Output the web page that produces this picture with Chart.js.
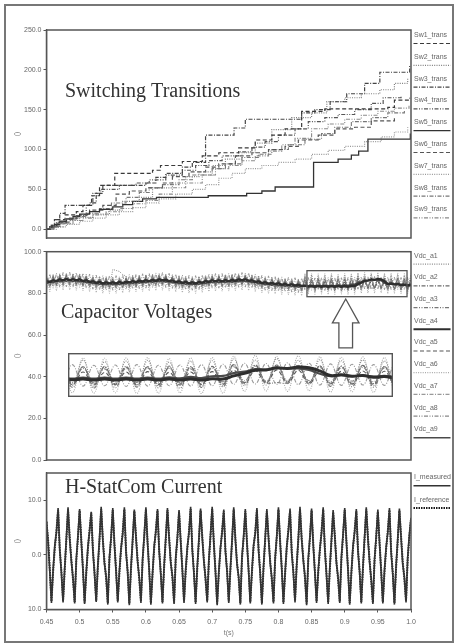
<!DOCTYPE html>
<html>
<head>
<meta charset="utf-8">
<script src="https://cdn.jsdelivr.net/npm/chart.js@4.4.0/dist/chart.umd.min.js"></script>
<style>
  html, body { margin: 0; padding: 0; background: #fff; }
  #page { position: relative; width: 457px; height: 643px; overflow: hidden; }
  #frame { position: absolute; left: 4px; top: 4px; width: 446px; height: 635px; border: 2px solid #777; }
  canvas { position: absolute; left: 0; }
</style>
</head>
<body>
<div id="page">
  <div id="frame"></div>
  <canvas id="swChart" width="457" height="245" style="top:0px"></canvas>
  <canvas id="vdcChart" width="457" height="227" style="top:240px"></canvas>
  <canvas id="curChart" width="457" height="178" style="top:465px"></canvas>
  <canvas id="insetChart" width="10" height="10" style="top:0px"></canvas>
</div>
<script>
'use strict';

// ── Data ──────────────────────────────────────────────────────────────────────

const X_TICKS = [0.45, 0.5, 0.55, 0.6, 0.65, 0.7, 0.75, 0.8, 0.85, 0.9, 0.95, 1.0];
const SW_TICKS = [0, 50, 100, 150, 200, 250];
const VDC_TICKS = [0, 20, 40, 60, 80, 100];
const CUR_TICKS = [-10, 0, 10];

const SW_NAMES = ['Sw1_trans', 'Sw2_trans', 'Sw3_trans', 'Sw4_trans', 'Sw5_trans',
  'Sw6_trans', 'Sw7_trans', 'Sw8_trans', 'Sw9_trans'];
const VDC_NAMES = ['Vdc_a1', 'Vdc_a2', 'Vdc_a3', 'Vdc_a4', 'Vdc_a5',
  'Vdc_a6', 'Vdc_a7', 'Vdc_a8', 'Vdc_a9'];
const CUR_NAMES = ['I_measured', 'I_reference'];

// switching transitions: [t, count] – the count jumps to this value at t
const sw1 = [[0.45,0],[0.458,5],[0.466,12],[0.478,18],[0.495,22],[0.505,30],[0.518,42],[0.53,55],[0.553,70],[0.61,74],[0.622,80],[0.655,85],[0.685,92],[0.71,96],[0.74,102],[0.765,112],[0.79,118],[0.81,126],[0.835,148],[0.87,151],[0.965,153],[0.975,162],[0.998,165]];
const sw2 = [[0.45,0],[0.46,3],[0.47,7],[0.485,11],[0.5,15],[0.52,19],[0.545,24],[0.565,35],[0.59,40],[0.61,52],[0.64,58],[0.66,66],[0.68,72],[0.7,80],[0.72,88],[0.745,96],[0.765,108],[0.79,125],[0.82,140],[0.85,146],[0.873,160],[0.9,165],[0.925,170],[0.953,175],[0.975,183],[0.995,190]];
const sw3 = [[0.45,0],[0.455,5],[0.462,12],[0.47,20],[0.478,30],[0.515,33],[0.525,45],[0.535,55],[0.6,58],[0.615,65],[0.63,70],[0.655,78],[0.67,84],[0.69,118],[0.733,127],[0.75,138],[0.835,146],[0.855,150],[0.878,160],[0.903,170],[0.93,183],[0.953,197],[0.998,205]];
const sw4 = [[0.45,0],[0.457,4],[0.465,9],[0.48,13],[0.495,17],[0.51,30],[0.52,45],[0.532,50],[0.56,55],[0.585,58],[0.605,62],[0.63,68],[0.655,74],[0.675,80],[0.695,86],[0.715,92],[0.74,97],[0.76,103],[0.78,110],[0.8,118],[0.825,126],[0.845,135],[0.87,140],[0.89,144],[0.915,150],[0.94,158],[0.958,165],[0.985,168]];
const sw5 = [[0.45,0],[0.455,3],[0.462,6],[0.47,10],[0.48,13],[0.49,16],[0.5,19],[0.515,22],[0.53,25],[0.55,28],[0.565,31],[0.58,35],[0.595,38],[0.616,40],[0.694,42],[0.752,45],[0.775,48],[0.795,53],[0.853,84],[0.89,88],[0.91,93],[0.921,98],[0.935,113],[0.999,120]];
const sw6 = [[0.45,0],[0.46,4],[0.472,9],[0.485,14],[0.5,18],[0.515,24],[0.535,30],[0.555,44],[0.575,48],[0.6,52],[0.625,58],[0.64,66],[0.665,72],[0.69,78],[0.71,82],[0.735,92],[0.76,96],[0.785,100],[0.81,104],[0.83,112],[0.86,118],[0.885,126],[0.915,128],[0.94,136],[0.975,141]];
const sw7 = [[0.45,0],[0.465,3],[0.48,6],[0.5,10],[0.52,14],[0.54,18],[0.56,22],[0.58,27],[0.6,33],[0.62,38],[0.645,44],[0.67,50],[0.69,56],[0.71,64],[0.73,70],[0.75,76],[0.775,80],[0.8,84],[0.825,88],[0.85,94],[0.875,99],[0.9,104],[0.93,110],[0.955,116],[0.975,122],[0.995,128]];
const sw8 = [[0.45,0],[0.458,3],[0.468,8],[0.48,12],[0.495,16],[0.51,20],[0.53,26],[0.548,33],[0.57,40],[0.59,46],[0.605,52],[0.625,56],[0.65,62],[0.67,68],[0.7,76],[0.72,82],[0.745,90],[0.77,94],[0.79,100],[0.815,106],[0.84,113],[0.865,120],[0.885,128],[0.91,135],[0.94,140],[0.965,146],[0.99,150]];
const sw9 = [[0.45,0],[0.462,3],[0.475,7],[0.49,11],[0.505,14],[0.52,18],[0.54,22],[0.56,26],[0.58,32],[0.6,36],[0.62,44],[0.64,52],[0.66,58],[0.685,68],[0.705,76],[0.725,80],[0.745,86],[0.765,92],[0.785,98],[0.805,106],[0.825,114],[0.85,126],[0.875,132],[0.9,138],[0.925,143],[0.95,148],[0.975,152],[0.997,155]];

// capacitor voltages, sampled every 5 ms
const tVdc = [
  0.45,0.455,0.46,0.465,0.47,0.475,0.48,0.485,0.49,0.495,
  0.5,0.505,0.51,0.515,0.52,0.525,0.53,0.535,0.54,0.545,
  0.55,0.555,0.56,0.565,0.57,0.575,0.58,0.585,0.59,0.595,
  0.6,0.605,0.61,0.615,0.62,0.625,0.63,0.635,0.64,0.645,
  0.65,0.655,0.66,0.665,0.67,0.675,0.68,0.685,0.69,0.695,
  0.7,0.705,0.71,0.715,0.72,0.725,0.73,0.735,0.74,0.745,
  0.75,0.755,0.76,0.765,0.77,0.775,0.78,0.785,0.79,0.795,
  0.8,0.805,0.81,0.815,0.82,0.825,0.83,0.835,0.84,0.845,
  0.85,0.855,0.86,0.865,0.87,0.875,0.88,0.885,0.89,0.895,
  0.9,0.905,0.91,0.915,0.92,0.925,0.93,0.935,0.94,0.945,
  0.95,0.955,0.96,0.965,0.97,0.975,0.98,0.985,0.99,0.995,1.0];
const vdcA1 = [
  88.5,82.8,89.0,83.2,89.4,83.5,89.6,83.6,89.5,83.5,
  89.4,83.2,89.0,82.8,88.5,82.3,88.2,82.0,88.0,82.0,
  91.5,91.0,90.5,89.0,88.3,82.5,88.6,82.7,88.8,82.9,
  89.0,83.1,89.2,83.3,89.4,83.5,89.3,83.1,88.9,82.7,
  88.5,82.3,88.2,82.1,88.0,82.0,88.2,82.4,88.6,82.8,
  89.0,83.0,89.0,83.0,89.1,83.1,89.2,83.3,89.4,83.5,
  89.5,83.3,89.0,82.8,88.5,82.2,88.0,81.9,87.8,81.7,
  87.5,81.4,87.3,81.2,87.1,81.0,86.9,80.8,88.7,81.6,
  88.9,81.2,88.4,81.7,88.6,81.3,88.8,81.5,88.3,81.8,
  88.6,81.4,88.7,81.6,89.2,82.1,88.9,81.8,89.3,82.2,
  88.8,81.9,89.0,81.6,88.7,81.9,88.9,81.7,88.6,81.8,88.8];
const vdcA2 = [
  87.5,83.8,88.0,84.2,88.4,84.5,88.6,84.6,88.5,84.5,
  88.4,84.2,88.0,83.8,87.5,83.3,87.2,83.0,87.0,83.0,
  87.0,83.0,87.1,83.2,87.3,83.5,87.6,83.7,87.8,83.9,
  88.0,84.1,88.2,84.3,88.4,84.5,88.3,84.1,87.9,83.7,
  87.5,83.3,87.2,83.1,87.0,83.0,87.2,83.4,87.6,83.8,
  88.0,84.0,88.0,84.0,88.1,84.1,88.2,84.3,88.4,84.5,
  88.5,84.3,88.0,83.8,87.5,83.2,87.0,82.9,86.8,82.7,
  86.5,82.4,86.3,82.2,86.1,82.0,85.9,81.8,87.2,82.1,
  87.0,82.0,86.9,82.1,87.1,81.9,87.0,82.0,86.8,82.1,
  87.0,82.0,87.1,82.2,87.6,82.5,87.4,82.4,87.5,82.6,
  87.3,82.5,87.2,82.3,87.1,82.3,87.3,82.2,87.0,82.2,87.1];
const vdcA3 = [
  88.0,83.3,88.5,83.7,88.9,84.0,89.1,84.1,89.0,84.0,
  88.9,83.7,88.5,83.3,88.0,82.8,87.7,82.5,87.5,82.5,
  87.5,82.5,87.6,82.7,87.8,83.0,88.1,83.2,88.3,83.4,
  88.5,83.6,88.7,83.8,88.9,84.0,88.8,83.6,88.4,83.2,
  88.0,82.8,87.7,82.6,87.5,82.5,87.7,82.9,88.1,83.3,
  88.5,83.5,88.5,83.5,88.6,83.6,88.7,83.8,88.9,84.0,
  89.0,83.8,88.5,83.3,88.0,82.7,87.5,82.4,87.3,82.2,
  87.0,81.9,86.8,81.7,86.6,81.5,86.4,81.3,87.2,81.1,
  87.0,80.9,87.1,81.0,86.9,81.2,87.0,81.0,87.2,80.9,
  87.0,81.1,87.1,81.3,87.6,81.6,87.5,82.6,82.5,82.6,
  87.4,82.4,87.3,81.4,87.2,81.3,87.4,81.2,87.1,81.3,87.0];
const vdcA4 = [
  85.8,85.5,86.3,85.9,86.7,86.2,86.9,86.3,86.8,86.2,
  86.7,85.9,86.3,85.5,85.8,85.0,85.5,84.7,85.3,84.7,
  85.3,84.7,85.4,84.9,85.6,85.2,85.9,85.4,86.1,85.6,
  86.3,85.8,86.5,86.0,86.7,86.2,86.6,85.8,86.2,85.4,
  85.8,85.0,85.5,84.8,85.3,84.7,85.5,85.1,85.9,85.5,
  86.3,85.7,86.3,85.7,86.4,85.8,86.5,86.0,86.7,86.2,
  86.8,86.0,86.3,85.5,85.8,84.9,85.3,84.6,85.1,84.4,
  84.8,84.1,84.6,83.9,84.4,83.7,84.2,83.5,83.7,83.3,
  83.5,83.2,83.5,83.2,83.5,83.2,83.5,83.2,83.5,83.2,
  83.5,83.2,83.6,83.5,84.4,85.1,86.0,86.1,86.7,86.5,
  86.9,86.7,85.8,84.5,84.7,84.3,84.5,84.0,84.2,83.8,84.0];
const vdcA5 = [
  87.0,84.3,87.5,84.7,87.9,85.0,88.1,85.1,88.0,85.0,
  87.9,84.7,87.5,84.3,87.0,83.8,86.7,83.5,86.5,83.5,
  86.5,83.5,86.6,83.7,86.8,84.0,87.1,84.2,87.3,84.4,
  87.5,84.6,87.7,84.8,87.9,85.0,87.8,84.6,87.4,84.2,
  87.0,83.8,86.7,83.6,86.5,83.5,86.7,83.9,87.1,84.3,
  87.5,84.5,87.5,84.5,87.6,84.6,87.7,84.8,87.9,85.0,
  88.0,84.8,87.5,84.3,87.0,83.7,86.5,83.4,86.3,83.2,
  86.0,82.9,85.8,82.7,85.6,82.5,85.4,82.3,85.6,81.9,
  85.5,81.8,85.4,81.9,85.5,81.8,85.6,81.9,85.4,81.8,
  85.5,81.9,85.6,82.0,86.0,82.3,85.9,82.4,86.1,82.3,
  86.0,82.2,85.8,82.1,85.7,82.1,85.8,82.0,85.7,82.1,85.6];
const vdcA6 = [
  88.5,80.8,89.0,81.2,89.4,81.5,89.6,81.6,89.5,81.5,
  89.4,81.2,89.0,80.8,88.5,80.3,88.2,80.0,88.0,80.0,
  88.0,80.0,88.1,80.2,88.3,80.5,88.6,80.7,88.8,80.9,
  89.0,81.1,89.2,81.3,89.4,81.5,89.3,81.1,88.9,80.7,
  88.5,80.3,88.2,80.1,88.0,80.0,88.2,80.4,88.6,80.8,
  89.0,81.0,89.0,81.0,89.1,81.1,89.2,81.3,89.4,81.5,
  89.5,81.3,89.0,80.8,88.5,80.2,88.0,79.9,87.8,79.7,
  87.5,79.4,87.3,79.2,87.1,79.0,86.9,78.8,89.7,79.6,
  89.5,79.5,89.4,79.6,89.5,79.4,89.6,79.5,89.3,79.6,
  89.5,79.4,89.6,79.5,90.0,80.0,90.2,80.1,89.9,80.0,
  90.1,80.2,89.8,79.8,89.7,79.9,89.8,79.7,89.6,79.8,89.5];
const vdcA7 = [
  82.0,89.3,82.5,89.7,82.9,90.0,83.1,90.1,83.0,90.0,
  82.9,89.7,82.5,89.3,82.0,88.8,81.7,88.5,81.5,88.5,
  81.5,88.5,81.6,88.7,81.8,89.0,82.1,89.2,82.3,89.4,
  82.5,89.6,82.7,89.8,82.9,90.0,82.8,89.6,82.4,89.2,
  82.0,88.8,81.7,88.6,81.5,88.5,81.7,88.9,82.1,89.3,
  82.5,89.5,82.5,89.5,82.6,89.6,82.7,89.8,82.9,90.0,
  83.0,89.8,82.5,89.3,82.0,88.7,81.5,88.4,81.3,88.2,
  81.0,87.9,80.8,87.7,80.6,87.5,80.4,87.3,81.6,87.6,
  81.5,87.4,81.6,87.5,81.4,87.6,81.5,87.4,81.6,87.5,
  81.5,87.6,81.6,87.7,82.0,88.0,82.1,87.9,82.0,88.1,
  81.9,88.0,81.8,87.8,81.7,87.7,81.8,87.6,81.7,87.8,81.8];
const vdcA8 = [
  87.2,83.1,87.7,83.5,88.1,83.8,88.3,83.9,88.2,83.8,
  88.1,83.5,87.7,83.1,87.2,82.6,86.9,82.3,86.7,82.3,
  86.7,82.3,86.8,82.5,87.0,82.8,87.3,83.0,87.5,83.2,
  87.7,83.4,87.9,83.6,88.1,83.8,88.0,83.4,87.6,83.0,
  87.2,82.6,86.9,82.4,86.7,82.3,86.9,82.7,87.3,83.1,
  87.7,83.3,87.7,83.3,87.8,83.4,87.9,83.6,88.1,83.8,
  88.2,83.6,87.7,83.1,87.2,82.5,86.7,82.2,86.5,82.0,
  86.2,81.7,86.0,81.5,85.8,81.3,85.6,81.1,86.6,82.5,
  86.5,82.4,86.4,82.6,86.5,82.5,86.6,82.4,86.5,82.5,
  86.4,82.6,86.6,82.7,87.0,83.0,87.1,82.9,87.0,83.1,
  86.9,83.0,86.8,82.8,86.7,82.9,86.8,82.7,86.6,82.8,86.7];
const vdcA9 = [
  84.6,85.7,85.1,86.1,85.5,86.4,85.7,86.5,85.6,86.4,
  85.5,86.1,85.1,85.7,84.6,85.2,84.3,84.9,84.1,84.9,
  84.1,84.9,84.2,85.1,84.4,85.4,84.7,85.6,84.9,85.8,
  85.1,86.0,85.3,86.2,85.5,86.4,85.4,86.0,85.0,85.6,
  84.6,85.2,84.3,85.0,84.1,84.9,84.3,85.3,84.7,85.7,
  85.1,85.9,85.1,85.9,85.2,86.0,85.3,86.2,85.5,86.4,
  85.6,86.2,85.1,85.7,84.6,85.1,84.1,84.8,83.9,84.6,
  83.6,84.3,83.4,84.1,83.2,83.9,83.0,83.7,83.9,83.6,
  83.9,83.6,83.9,83.6,83.9,83.6,83.9,83.6,84.0,83.7,
  84.1,83.8,84.3,84.4,85.2,85.6,86.3,86.2,86.6,86.5,
  86.5,86.1,85.0,84.3,84.6,84.3,84.5,84.2,84.4,84.1,84.2];

// H-StatCom current, sampled every 2.5 ms
const tCur = [
  0.45,0.4525,0.455,0.4575,0.46,0.4625,0.465,0.4675,0.47,0.4725,0.475,0.4775,0.48,0.4825,0.485,0.4875,0.49,0.4925,0.495,0.4975,
  0.5,0.5025,0.505,0.5075,0.51,0.5125,0.515,0.5175,0.52,0.5225,0.525,0.5275,0.53,0.5325,0.535,0.5375,0.54,0.5425,0.545,0.5475,
  0.55,0.5525,0.555,0.5575,0.56,0.5625,0.565,0.5675,0.57,0.5725,0.575,0.5775,0.58,0.5825,0.585,0.5875,0.59,0.5925,0.595,0.5975,
  0.6,0.6025,0.605,0.6075,0.61,0.6125,0.615,0.6175,0.62,0.6225,0.625,0.6275,0.63,0.6325,0.635,0.6375,0.64,0.6425,0.645,0.6475,
  0.65,0.6525,0.655,0.6575,0.66,0.6625,0.665,0.6675,0.67,0.6725,0.675,0.6775,0.68,0.6825,0.685,0.6875,0.69,0.6925,0.695,0.6975,
  0.7,0.7025,0.705,0.7075,0.71,0.7125,0.715,0.7175,0.72,0.7225,0.725,0.7275,0.73,0.7325,0.735,0.7375,0.74,0.7425,0.745,0.7475,
  0.75,0.7525,0.755,0.7575,0.76,0.7625,0.765,0.7675,0.77,0.7725,0.775,0.7775,0.78,0.7825,0.785,0.7875,0.79,0.7925,0.795,0.7975,
  0.8,0.8025,0.805,0.8075,0.81,0.8125,0.815,0.8175,0.82,0.8225,0.825,0.8275,0.83,0.8325,0.835,0.8375,0.84,0.8425,0.845,0.8475,
  0.85,0.8525,0.855,0.8575,0.86,0.8625,0.865,0.8675,0.87,0.8725,0.875,0.8775,0.88,0.8825,0.885,0.8875,0.89,0.8925,0.895,0.8975,
  0.9,0.9025,0.905,0.9075,0.91,0.9125,0.915,0.9175,0.92,0.9225,0.925,0.9275,0.93,0.9325,0.935,0.9375,0.94,0.9425,0.945,0.9475,
  0.95,0.9525,0.955,0.9575,0.96,0.9625,0.965,0.9675,0.97,0.9725,0.975,0.9775,0.98,0.9825,0.985,0.9875,0.99,0.9925,0.995,0.9975,
  1.0];
const iMeasured = [
  6.2,2.2,-3.1,-8.8,-2.6,1.8,4.1,8.6,0.9,-3.4,-8.7,-2.3,3.2,8.7,2.8,-1.2,-4.2,-8.9,-0.6,3.6,
  8.4,2.4,-2.8,-9.0,-3.1,1.6,4.3,7.9,0.7,-3.6,-8.6,-1.8,3.1,8.8,2.6,-1.7,-3.9,-9.1,-0.3,3.4,
  8.6,1.8,-3.2,-8.7,-2.9,1.3,3.8,8.7,0.4,-3.3,-9.2,-2.2,2.9,8.3,3.2,-1.4,-4.1,-8.8,-0.7,3.7,
  8.7,2.1,-3.0,-9.1,-3.3,1.7,4.2,8.4,0.6,-3.7,-8.9,-1.9,3.3,8.6,2.9,-1.6,-3.8,-9.0,-0.4,3.3,
  8.2,2.3,-2.9,-8.8,-2.7,1.5,4.0,8.8,0.8,-3.5,-9.0,-2.1,3.0,8.5,3.1,-1.3,-4.3,-8.7,-0.8,3.8,
  8.8,1.9,-3.3,-9.2,-3.0,1.4,4.1,8.3,0.5,-3.2,-8.8,-2.4,2.8,8.7,2.7,-1.8,-4.0,-9.1,-0.2,3.5,
  8.4,2.0,-3.1,-8.9,-2.8,1.9,3.9,8.6,0.7,-3.6,-9.1,-2.0,3.2,8.4,3.0,-1.5,-4.2,-8.9,-0.5,3.6,
  8.7,2.2,-2.7,-9.0,-3.2,1.6,4.4,8.5,0.3,-3.4,-8.7,-1.7,3.1,8.8,2.8,-1.1,-3.9,-9.2,-0.6,3.4,
  8.5,1.7,-3.4,-8.8,-2.9,1.2,4.0,8.7,0.9,-3.8,-9.0,-2.3,2.9,8.2,3.3,-1.6,-4.1,-8.8,-0.3,3.9,
  8.6,2.4,-3.0,-9.1,-3.1,1.7,4.2,8.4,0.6,-3.3,-8.9,-2.1,3.4,8.7,2.9,-1.4,-4.4,-9.0,-0.7,3.5,
  8.3,2.1,-3.2,-8.9,-2.7,1.5,4.1,8.6,0.4,-3.6,-9.1,-1.9,3.0,8.5,3.1,-1.7,-4.0,-8.7,-0.4,3.7,
  6.8];
const iReference = [
  6.0,2.6,-2.7,-8.5,-3.0,1.2,4.4,8.2,1.1,-3.0,-8.4,-2.6,2.8,8.3,3.2,-0.9,-4.5,-8.6,-1.0,3.2,
  8.1,2.8,-2.5,-8.7,-3.4,1.1,4.6,7.7,1.0,-3.2,-8.4,-2.2,2.7,8.4,3.0,-1.3,-4.3,-8.8,-0.7,3.0,
  8.2,2.2,-2.8,-8.4,-3.3,1.0,4.2,8.3,0.8,-3.0,-8.9,-2.6,2.5,8.0,3.5,-1.0,-4.5,-8.5,-1.1,3.3,
  8.3,2.5,-2.6,-8.8,-3.6,1.3,4.5,8.1,1.0,-3.3,-8.6,-2.3,2.9,8.2,3.3,-1.2,-4.2,-8.7,-0.8,2.9,
  7.9,2.7,-2.5,-8.5,-3.1,1.1,4.3,8.4,1.2,-3.1,-8.7,-2.5,2.6,8.1,3.5,-0.9,-4.6,-8.4,-1.2,3.4,
  8.4,2.3,-2.9,-8.9,-3.4,1.0,4.5,8.0,0.9,-2.8,-8.5,-2.8,2.4,8.3,3.1,-1.4,-4.4,-8.8,-0.6,3.1,
  8.0,2.4,-2.7,-8.6,-3.2,1.5,4.2,8.2,1.1,-3.2,-8.8,-2.4,2.8,8.0,3.4,-1.1,-4.6,-8.6,-0.9,3.2,
  8.3,2.6,-2.3,-8.7,-3.6,1.2,4.7,8.1,0.7,-3.0,-8.4,-2.1,2.7,8.4,3.2,-0.7,-4.3,-8.9,-1.0,3.0,
  8.1,2.1,-3.0,-8.5,-3.3,0.8,4.3,8.3,1.3,-3.4,-8.7,-2.7,2.5,7.8,3.7,-1.2,-4.5,-8.5,-0.7,3.5,
  8.2,2.8,-2.6,-8.8,-3.5,1.3,4.5,8.0,1.0,-2.9,-8.6,-2.5,3.0,8.3,3.3,-1.0,-4.8,-8.7,-1.1,3.1,
  7.9,2.5,-2.8,-8.6,-3.1,1.1,4.4,8.2,0.8,-3.2,-8.8,-2.3,2.6,8.1,3.5,-1.3,-4.4,-8.4,-0.8,3.3,
  6.5];

// annotation boxes in panel 2 (data units)
const ZOOM_BOX = { t0: 0.843, t1: 0.994, v0: 78.4, v1: 90.9 };
const INSET_BOX = { t0: 0.482, t1: 0.973, v0: 30.4, v1: 51.5 };
const ARROW = { t: 0.9015, base: 53.8, neck: 65.8, tip: 77.3, shaft: 0.0103, head: 0.0201 };

// ── Styles ────────────────────────────────────────────────────────────────────

Chart.defaults.font.family = '"Liberation Sans", Arial, sans-serif';

const DASH = {
  solid: [],
  dashed: [4, 2.5],
  dotted: [1, 1.3],
  dashDot: [4, 1.5, 1, 1.5],
  dashDot2: [4, 1.5, 1, 1.5, 1, 1.5],
};
const TICK_FONT = { family: '"Liberation Sans", Arial, sans-serif', size: 7 };
const SERIF = '20px "Liberation Serif", "Times New Roman", serif';

const SW_STYLE = [
  { color: '#3a3a3a', dash: DASH.dashed, width: 1.2 },
  { color: '#808080', dash: DASH.dotted, width: 1.2 },
  { color: '#444', dash: DASH.dashDot, width: 1.2 },
  { color: '#555', dash: DASH.dashDot2, width: 1.2 },
  { color: '#333', dash: DASH.solid, width: 1.3 },
  { color: '#555', dash: DASH.dashed, width: 1.2 },
  { color: '#999', dash: DASH.dotted, width: 1.2 },
  { color: '#777', dash: DASH.dashDot, width: 1.1 },
  { color: '#8a8a8a', dash: DASH.dashDot2, width: 1.1 },
];
const VDC_STYLE = [
  { color: '#8a8a8a', dash: DASH.dotted, width: 1 },
  { color: '#6a6a6a', dash: DASH.dashDot, width: 1 },
  { color: '#777', dash: DASH.dashDot2, width: 1 },
  { color: '#2e2e2e', dash: DASH.solid, width: 2.4 },
  { color: '#555', dash: DASH.dashed, width: 1 },
  { color: '#aaa', dash: DASH.dotted, width: 1 },
  { color: '#999', dash: DASH.dashDot, width: 1 },
  { color: '#888', dash: DASH.dashDot2, width: 1 },
  { color: '#4a4a4a', dash: DASH.solid, width: 1.6 },
];
const CUR_STYLE = [
  { color: '#333', dash: DASH.solid, width: 1.6 },
  { color: '#1a1a1a', dash: [1.5, 1], width: 2 },
];

// ── Plugins ───────────────────────────────────────────────────────────────────

const decor = {
  id: 'decor',
  afterDatasetsDraw(chart, args, o) {
    const { ctx, chartArea: a, scales } = chart;
    ctx.save();
    ctx.strokeStyle = '#555';
    ctx.lineWidth = 1.5;
    ctx.setLineDash([]);
    ctx.strokeRect(a.left, a.top, a.right - a.left, a.bottom - a.top);

    const px = t => scales.x.getPixelForValue(t);
    const py = v => scales.y.getPixelForValue(v);

    (o.boxes || []).forEach(b => {
      ctx.lineWidth = 1.3;
      ctx.strokeRect(px(b.t0), py(b.v1), px(b.t1) - px(b.t0), py(b.v0) - py(b.v1));
    });

    if (o.arrow) {
      const r = o.arrow;
      ctx.beginPath();
      ctx.moveTo(px(r.t - r.shaft), py(r.base));
      ctx.lineTo(px(r.t - r.shaft), py(r.neck));
      ctx.lineTo(px(r.t - r.head), py(r.neck));
      ctx.lineTo(px(r.t), py(r.tip));
      ctx.lineTo(px(r.t + r.head), py(r.neck));
      ctx.lineTo(px(r.t + r.shaft), py(r.neck));
      ctx.lineTo(px(r.t + r.shaft), py(r.base));
      ctx.closePath();
      ctx.fillStyle = '#fff';
      ctx.fill();
      ctx.lineWidth = 1.3;
      ctx.stroke();
    }

    if (o.title) {
      ctx.font = SERIF;
      ctx.fillStyle = '#333';
      ctx.textBaseline = 'alphabetic';
      ctx.textAlign = 'left';
      ctx.fillText(o.title, o.titleX, o.titleY);
    }

    if (o.legend) {
      const L = o.legend;
      ctx.font = '7px "Liberation Sans", Arial, sans-serif';
      ctx.textBaseline = 'middle';
      ctx.textAlign = 'left';
      L.names.forEach((name, i) => {
        const y = L.top + i * L.step;
        const st = L.styles[i];
        ctx.fillStyle = '#666';
        ctx.fillText(name, 414, y);
        ctx.beginPath();
        ctx.setLineDash(st.dash);
        ctx.strokeStyle = st.color;
        ctx.lineWidth = Math.max(1.2, Math.min(st.width, 2));
        ctx.moveTo(413.5, y + 8.5);
        ctx.lineTo(450.5, y + 8.5);
        ctx.stroke();
      });
      ctx.setLineDash([]);
    }
    ctx.restore();
  },
};

const insetFrame = {
  id: 'insetFrame',
  beforeDraw(chart) {
    const { ctx, width, height } = chart;
    ctx.save();
    ctx.fillStyle = '#fff';
    ctx.fillRect(0, 0, width, height);
    ctx.restore();
  },
  afterDraw(chart) {
    const { ctx, width, height } = chart;
    ctx.save();
    ctx.strokeStyle = '#555';
    ctx.lineWidth = 1.4;
    ctx.strokeRect(0.7, 0.7, width - 1.4, height - 1.4);
    ctx.restore();
  },
};

// ── Helpers ───────────────────────────────────────────────────────────────────

function yAxis(min, max, tickVals, fmt) {
  return {
    type: 'linear',
    min,
    max,
    afterFit: s => { s.width = 46.5; },
    afterBuildTicks: s => { s.ticks = tickVals.map(v => ({ value: v })); },
    ticks: { color: '#666', font: TICK_FONT, padding: 2, callback: fmt || (v => v.toFixed(1)) },
    grid: { drawOnChartArea: false, drawTicks: true, tickLength: 3, color: '#555' },
    border: { display: true, color: '#444', width: 1.2 },
    title: { display: true, text: '()', color: '#777', font: TICK_FONT, padding: { top: 13, bottom: 0 } },
  };
}

function lineSets(names, styles, series, extra) {
  return series.map((d, i) => ({
    label: names[i],
    data: d,
    borderColor: styles[i].color,
    borderDash: styles[i].dash,
    borderWidth: styles[i].width,
    pointRadius: 0,
    fill: false,
    ...extra,
  }));
}

const BASE = {
  responsive: false,
  animation: false,
  events: [],
  devicePixelRatio: 1,
};

// ── Panel 1: switching transitions ───────────────────────────────────────────

const swSeries = [sw1, sw2, sw3, sw4, sw5, sw6, sw7, sw8, sw9].map(s => s.map(([x, y]) => ({ x, y })));

new Chart(document.getElementById('swChart'), {
  type: 'line',
  data: { datasets: lineSets(SW_NAMES, SW_STYLE, swSeries, { stepped: true }) },
  options: {
    ...BASE,
    layout: { padding: { top: 30, bottom: 7, left: 0, right: 46 } },
    plugins: {
      legend: { display: false },
      tooltip: { enabled: false },
      decor: {
        title: 'Switching Transitions', titleX: 65, titleY: 97,
        legend: { names: SW_NAMES, styles: SW_STYLE, top: 35, step: 21.8 },
      },
    },
    scales: {
      x: { type: 'linear', min: 0.45, max: 1.0, display: false },
      y: yAxis(-11, 250, SW_TICKS),
    },
  },
  plugins: [decor],
});

// ── Panel 2: capacitor voltages ──────────────────────────────────────────────

const vdcSeries = [vdcA1, vdcA2, vdcA3, vdcA4, vdcA5, vdcA6, vdcA7, vdcA8, vdcA9];
const vdcOrder = [2, 2, 2, 0, 2, 2, 2, 2, 1];

function vdcSets(tension) {
  return lineSets(VDC_NAMES, VDC_STYLE, vdcSeries, { tension })
    .map((ds, i) => ({ ...ds, order: vdcOrder[i] }));
}

const vdcChart = new Chart(document.getElementById('vdcChart'), {
  type: 'line',
  data: { labels: tVdc, datasets: vdcSets(0) },
  options: {
    ...BASE,
    layout: { padding: { top: 11.7, bottom: 7, left: 0, right: 46 } },
    plugins: {
      legend: { display: false },
      tooltip: { enabled: false },
      decor: {
        title: 'Capacitor Voltages', titleX: 61, titleY: 78,
        legend: { names: VDC_NAMES, styles: VDC_STYLE, top: 15.7, step: 21.7 },
        boxes: [ZOOM_BOX],
        arrow: ARROW,
      },
    },
    scales: {
      x: { type: 'linear', min: 0.45, max: 1.0, display: false },
      y: yAxis(0, 100, VDC_TICKS),
    },
  },
  plugins: [decor],
});

// inset: magnified view of the boxed region, placed over the inset rectangle
(function () {
  const xs = vdcChart.scales.x;
  const ys = vdcChart.scales.y;
  const left = Math.round(xs.getPixelForValue(INSET_BOX.t0));
  const right = Math.round(xs.getPixelForValue(INSET_BOX.t1));
  const top = Math.round(ys.getPixelForValue(INSET_BOX.v1));
  const bottom = Math.round(ys.getPixelForValue(INSET_BOX.v0));
  const cv = document.getElementById('insetChart');
  cv.width = right - left;
  cv.height = bottom - top;
  cv.style.left = left + 'px';
  cv.style.top = (240 + top) + 'px';

  const sets = vdcSets(0.4).map(ds => ({
    ...ds,
    borderWidth: ds.order === 0 ? 3 : ds.order === 1 ? 2.2 : 1.1,
  }));

  new Chart(cv, {
    type: 'line',
    data: { labels: tVdc, datasets: sets },
    options: {
      ...BASE,
      layout: { padding: 0 },
      plugins: { legend: { display: false }, tooltip: { enabled: false } },
      scales: {
        x: { type: 'linear', min: ZOOM_BOX.t0, max: ZOOM_BOX.t1, display: false },
        y: { type: 'linear', min: ZOOM_BOX.v0, max: ZOOM_BOX.v1, display: false },
      },
    },
    plugins: [insetFrame],
  });
})();

// ── Panel 3: H-StatCom current ───────────────────────────────────────────────

function fmtT(v) {
  return Number.isInteger(v) ? v.toFixed(1) : String(+v.toFixed(2));
}

new Chart(document.getElementById('curChart'), {
  type: 'line',
  data: {
    labels: tCur,
    datasets: lineSets(CUR_NAMES, CUR_STYLE, [iMeasured, iReference], {}),
  },
  options: {
    ...BASE,
    layout: { padding: { top: 8, bottom: 0, left: 0, right: 46 } },
    plugins: {
      legend: { display: false },
      tooltip: { enabled: false },
      decor: {
        title: 'H-StatCom Current', titleX: 65, titleY: 28,
        legend: { names: CUR_NAMES, styles: CUR_STYLE, top: 12.3, step: 22.3 },
      },
    },
    scales: {
      x: {
        type: 'linear',
        min: 0.45,
        max: 1.0,
        afterFit: s => { s.height = 33.5; },
        afterBuildTicks: s => { s.ticks = X_TICKS.map(v => ({ value: v })); },
        ticks: { color: '#666', font: TICK_FONT, padding: 5, maxRotation: 0, autoSkip: false, callback: fmtT },
        grid: { drawOnChartArea: false, drawTicks: true, tickLength: 3, color: '#555' },
        border: { display: true, color: '#444', width: 1.2 },
        title: { display: true, text: 't(s)', color: '#777', font: TICK_FONT, padding: { top: 0, bottom: 6 } },
      },
      y: yAxis(-10, 15, CUR_TICKS, v => Math.abs(v).toFixed(1)),
    },
  },
  plugins: [decor],
});
</script>
</body>
</html>
